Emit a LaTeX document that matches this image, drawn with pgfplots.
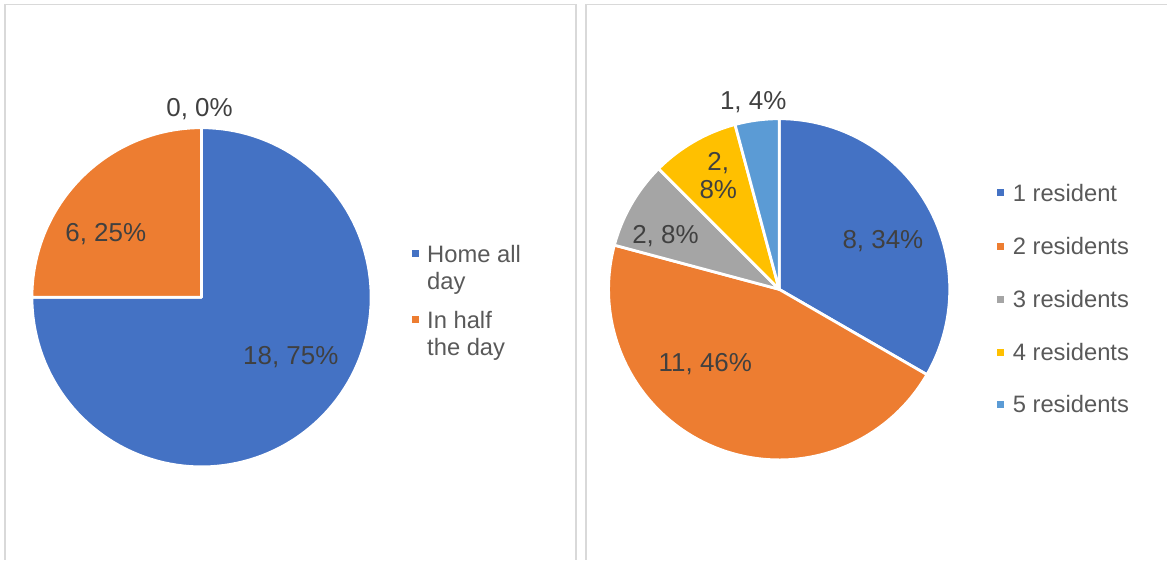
\documentclass[border=0pt]{standalone}
\usepackage{pgfplots}
\pgfplotsset{compat=1.18}
\usepackage{fontspec}
\setmainfont{Liberation Sans}
\definecolor{cA}{HTML}{4472C4}
\definecolor{cB}{HTML}{ED7D31}
\definecolor{cC}{HTML}{A5A5A5}
\definecolor{cD}{HTML}{FFC000}
\definecolor{cE}{HTML}{5B9BD5}
\definecolor{lab}{HTML}{404040}
\definecolor{leg}{HTML}{595959}
\definecolor{bord}{HTML}{D9D9D9}

% data: left pie
\def\LvA{18}\def\LvB{6}\def\LvC{0}
% data: right pie
\def\RvA{8}\def\RvB{11}\def\RvC{2}\def\RvD{2}\def\RvE{1}

\pgfmathsetmacro\Ltot{\LvA+\LvB+\LvC}
\pgfmathsetmacro\LaA{90}
\pgfmathsetmacro\LaB{\LaA-360*\LvA/\Ltot}
\pgfmathsetmacro\LaC{\LaB-360*\LvB/\Ltot}

\pgfmathsetmacro\Rtot{\RvA+\RvB+\RvC+\RvD+\RvE}
\pgfmathsetmacro\RaA{90}
\pgfmathsetmacro\RaB{\RaA-360*\RvA/\Rtot}
\pgfmathsetmacro\RaC{\RaB-360*\RvB/\Rtot}
\pgfmathsetmacro\RaD{\RaC-360*\RvC/\Rtot}
\pgfmathsetmacro\RaE{\RaD-360*\RvD/\Rtot}
\pgfmathsetmacro\RaF{\RaE-360*\RvE/\Rtot}

% slice: cx, cy, r, end angle (lower), start angle (higher), colour
\newcommand{\slice}[6]{%
  \addplot[fill=#6, draw=white, line width=2.8pt, line join=round,
    domain=#4:#5, samples=120, variable=\t]
    ({#1+#3*cos(\t)},{#2+#3*sin(\t)}) -- (axis cs:#1,#2) -- cycle;
}

\begin{document}
\begin{tikzpicture}
\begin{axis}[at={(0,0)}, anchor=south west, scale only axis,
  width=1168pt, height=561pt, xmin=0, xmax=1168, ymin=0, ymax=561,
  hide axis, clip=false]

% panel borders
\draw[bord, line width=1.5pt] (axis cs:5,0) -- (axis cs:5,556.5) -- (axis cs:577.5,556.5) -- (axis cs:577.5,0);
\draw[bord, line width=1.5pt] (axis cs:587.5,0) -- (axis cs:587.5,556.5) -- (axis cs:1170,556.5);

% left pie
\slice{202}{263}{170}{\LaB}{\LaA}{cA}
\slice{202}{263}{170}{\LaC}{\LaB}{cB}

% right pie
\slice{781}{271}{171}{\RaB}{\RaA}{cA}
\slice{781}{271}{171}{\RaC}{\RaB}{cB}
\slice{781}{271}{171}{\RaD}{\RaC}{cC}
\slice{781}{271}{171}{\RaE}{\RaD}{cD}
\slice{781}{271}{171}{\RaF}{\RaE}{cE}

% data labels
\begin{scope}[every node/.style={font=\fontsize{26}{30}\selectfont, text=lab, anchor=base, inner sep=0pt}]
\node at (axis cs:200,444.7) {0, 0\%};
\node at (axis cs:106,318.7) {6, 25\%};
\node at (axis cs:291.5,195.2) {18, 75\%};
\node at (axis cs:885,311.7) {8, 34\%};
\node at (axis cs:707,188.7) {11, 46\%};
\node at (axis cs:667,316.7) {2, 8\%};
\node at (axis cs:720,389.7) {2,};
\node at (axis cs:720,361.7) {8\%};
\node at (axis cs:755,451.7) {1, 4\%};
\end{scope}

% legends
\begin{scope}[every node/.style={font=\fontsize{23.8}{27}\selectfont, text=leg, anchor=base west, inner sep=0pt}]
\fill[cA] (axis cs:412.5,303.5) rectangle (axis cs:419.5,310.5);
\node at (axis cs:428,298) {Home all};
\node at (axis cs:428,271) {day};
\fill[cB] (axis cs:412.5,237.5) rectangle (axis cs:419.5,244.5);
\node at (axis cs:428,232) {In half};
\node at (axis cs:428,205) {the day};

\fill[cA] (axis cs:999.5,364.5) rectangle (axis cs:1006.5,371.5);
\node at (axis cs:1015,359.5) {1 resident};
\fill[cB] (axis cs:999.5,310.5) rectangle (axis cs:1006.5,317.5);
\node at (axis cs:1015,305.5) {2 residents};
\fill[cC] (axis cs:999.5,257.5) rectangle (axis cs:1006.5,264.5);
\node at (axis cs:1015,252.5) {3 residents};
\fill[cD] (axis cs:999.5,204.5) rectangle (axis cs:1006.5,211.5);
\node at (axis cs:1015,199.5) {4 residents};
\fill[cE] (axis cs:999.5,152.5) rectangle (axis cs:1006.5,159.5);
\node at (axis cs:1015,147.5) {5 residents};
\end{scope}
\end{axis}
\path[use as bounding box] (0,0) rectangle (1168pt,561pt);
\end{tikzpicture}
\end{document}
